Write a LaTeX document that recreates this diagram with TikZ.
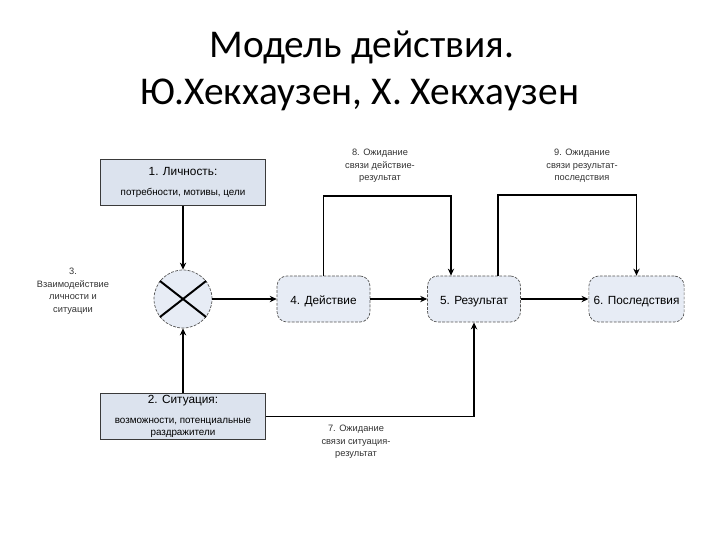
\documentclass[tikz,border=0pt]{standalone}
\usepackage{fontspec}
\setmainfont{Liberation Sans}
\newfontfamily\titlefont{Carlito}
\usetikzlibrary{arrows.meta,calc}

\definecolor{boxfill}{HTML}{DCE3EE}
\definecolor{rndfill}{HTML}{E7ECF5}
\definecolor{edgegray}{HTML}{3A3A3A}
\definecolor{dashgray}{HTML}{555555}

\begin{document}
\begin{tikzpicture}[x=0.025cm,y=-0.025cm,line width=1.4pt,>={Stealth[length=5pt,width=4.5pt]},
  sqbox/.style={rectangle,draw=edgegray,line width=0.7pt,fill=boxfill,
    minimum width=4.1cm,minimum height=1.15cm,align=center,inner sep=1pt,
    font=\fontsize{7}{8.6}\selectfont},
  rndbox/.style={rectangle,rounded corners=7pt,draw=dashgray,dash pattern=on 2pt off 1pt,
    line width=0.5pt,fill=rndfill,minimum width=2.32cm,minimum height=1.15cm,
    text height=1.6ex,text depth=0.25ex,font=\fontsize{8.4}{10}\selectfont},
  note/.style={align=center,text=black!80,inner sep=0pt,font=\fontsize{6.6}{8.9}\selectfont},
  conn/.style={->,line width=1.4pt}]
\useasboundingbox (0,0) rectangle (720,540);
% ---------- title ----------
\node[anchor=base,inner sep=0pt,font=\titlefont\fontsize{28}{32}\selectfont] (title1) at (362,57) {Модель действия.};
\node[anchor=base,inner sep=0pt,font=\titlefont\fontsize{28}{32}\selectfont] (title2) at (360,104) {Ю.Хекхаузен, Х. Хекхаузен};
% ---------- boxes ----------
\node[sqbox] (pers) at (183,182.5) {{\fontsize{8.4}{10}\selectfont 1. Личность:}\\[5pt] потребности, мотивы, цели};
\node[sqbox] (sit) at (183,416.5) {{\fontsize{8.4}{10}\selectfont 2. Ситуация:}\\[6pt] возможности, потенциальные\\ раздражители};
\node[circle,draw=dashgray,dash pattern=on 2pt off 1pt,line width=0.5pt,fill=rndfill,minimum size=1.45cm,inner sep=0pt] (mix) at (183,299) {};
\draw[line width=1.4pt] (mix.142) -- (mix.-38);
\draw[line width=1.4pt] (mix.38) -- (mix.218);
\node[rndbox] (act) at (323.5,299) {4. Действие};
\node[rndbox] (res) at (474,299) {5. Результат};
\node[rndbox] (cons) at (636.5,299) {6. Последствия};
% ---------- labels ----------
\node[note] (lbl3) at (73,291) {3.\\Взаимодействие\\личности и\\ситуации};
\node[note] (lbl8) at (380,166) {8. Ожидание\\связи действие-\\результат};
\node[note] (lbl9) at (582,166) {9. Ожидание\\связи результат-\\последствия};
\node[note] (lbl7) at (356,442) {7. Ожидание\\связи ситуация-\\результат};
% ---------- connectors ----------
\draw[conn] (pers) -- (mix);
\draw[conn] (sit) -- (mix);
\draw[conn] (mix) -- (act);
\draw[conn] (act) -- (res);
\draw[conn] (res) -- (cons);
\draw[conn] (act.north) -- ++(0,-80) -| ($(res.north)+(-23,0)$);
\draw[conn] ($(res.north)+(24,0)$) -- ++(0,-81) -| (cons.north);
\draw[conn] (sit.east) -| (res.south);
\end{tikzpicture}
\end{document}
